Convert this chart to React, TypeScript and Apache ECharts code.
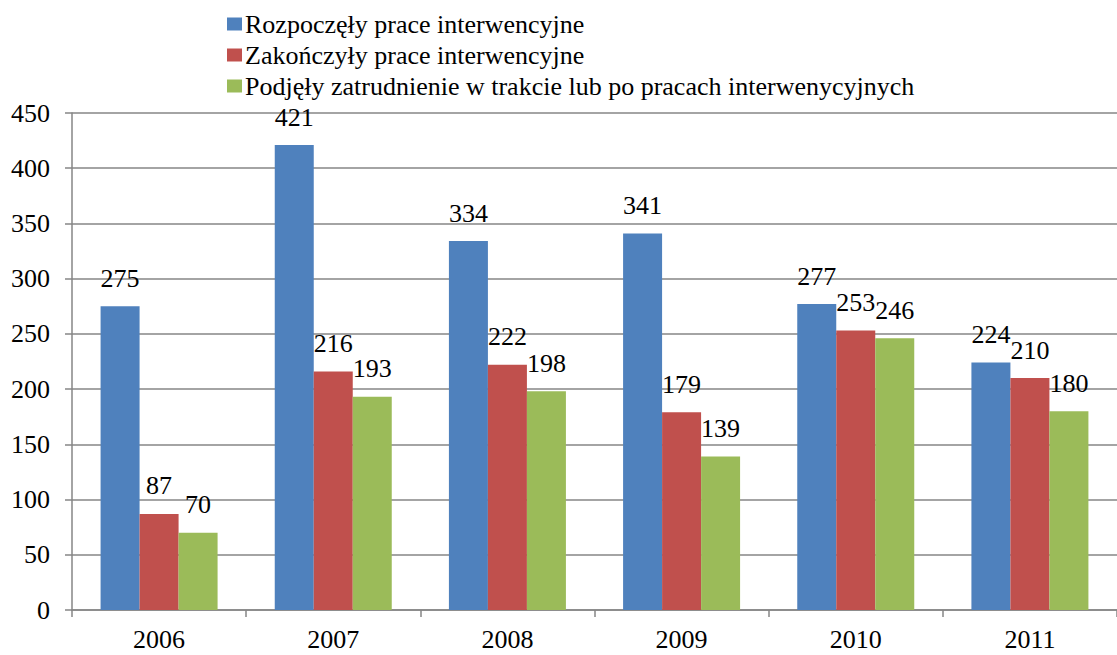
import React, { useEffect, useRef } from "react";
import * as echarts from "echarts";

const categories = ["2006", "2007", "2008", "2009", "2010", "2011"];
const seriesNames = [
  "Rozpoczęły prace interwencyjne",
  "Zakończyły prace interwencyjne",
  "Podjęły zatrudnienie w trakcie lub po pracach interwenycyjnych",
];
const started = [275, 421, 334, 341, 277, 224];
const finished = [87, 216, 222, 179, 253, 210];
const employed = [70, 193, 198, 139, 246, 180];
const colors = ["#4F81BD", "#C0504D", "#9BBB59"];

const FONT = "Liberation Serif";

export default function App() {
  const ref = useRef<HTMLDivElement>(null);
  useEffect(() => {
    document.body.style.margin = "0";
    document.body.style.overflow = "hidden";
    const chart = echarts.init(ref.current!, null, { renderer: "svg" });
    const values = [started, finished, employed];
    const txt = { fontFamily: FONT, fontSize: 26, color: "#000" };
    chart.setOption({
      animation: false,
      textStyle: { fontFamily: FONT },
      legend: {
        orient: "vertical",
        left: 222,
        top: 6,
        itemWidth: 15,
        itemHeight: 13,
        itemGap: 5,
        itemStyle: { borderWidth: 0 },
        icon: "rect",
        textStyle: { ...txt, padding: [0, 0, 0, -2] },
        data: seriesNames,
      },
      grid: { left: 72, top: 113, width: 1053, height: 497, containLabel: false },
      xAxis: {
        type: "category",
        data: categories,
        axisLine: { lineStyle: { color: "#868686", width: 1.5 } },
        axisTick: { show: true, length: 7, lineStyle: { color: "#868686", width: 1.5 } },
        axisLabel: { ...txt, margin: 16 },
      },
      yAxis: {
        type: "value",
        min: 0,
        max: 450,
        interval: 50,
        axisLine: { show: true, lineStyle: { color: "#868686", width: 1.5 } },
        axisTick: { show: true, length: 7, lineStyle: { color: "#868686", width: 1.5 } },
        splitLine: { lineStyle: { color: "#868686", width: 1.5 } },
        axisLabel: { ...txt, margin: 22 },
      },
      series: seriesNames.map((name, i) => ({
        name,
        type: "bar",
        data: values[i],
        barWidth: 39,
        barGap: "0%",
        itemStyle: { color: colors[i] },
        label: {
          show: true,
          position: "top",
          distance: 15,
          ...txt,
        },
      })),
    });
    return () => chart.dispose();
  }, []);
  return <div ref={ref} style={{ width: 1117, height: 655 }} />;
}
